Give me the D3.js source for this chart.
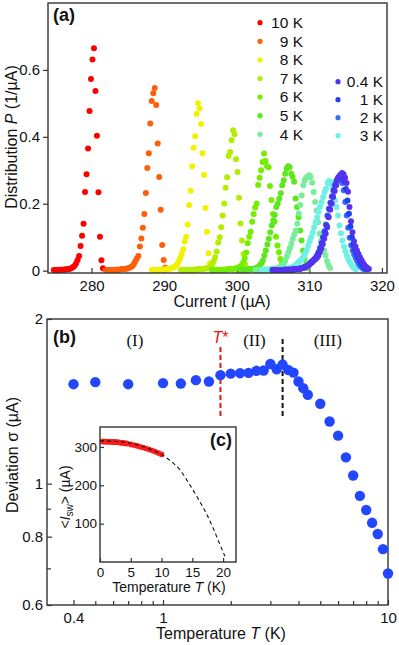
<!DOCTYPE html>
<html>
<head>
<meta charset="utf-8">
<script src="https://cdnjs.cloudflare.com/ajax/libs/d3/7.8.5/d3.min.js"></script>
<style>
  body { margin: 0; background: #fff; }
  svg text { font-family: "Liberation Sans", Arial, Helvetica, sans-serif; fill: #111; }
  .frame { fill: none; stroke: #333; stroke-width: 1.4; }
  .axis .domain { display: none; }
  .axis line { stroke: #333; stroke-width: 1.2; }
  .axis text { font-size: 15px; fill: #111; }
</style>
</head>
<body>
<svg id="fig" width="399" height="645"></svg>
<script>
// ---- panel (a): switching current distributions, bins of 0.205 uA ----
var binStep = 0.205;
var seriesNames  = ["10 K", "9 K", "8 K", "7 K", "6 K", "5 K", "4 K", "3 K", "2 K", "1 K", "0.4 K"];
var seriesColors = ["#ff0000", "#ff5f0a", "#f2f200", "#b2ee00", "#77ee00", "#5ce81c", "#77ee99", "#6ff0e6", "#3a6cff", "#2240ee", "#5533ee"];
var seriesStart  = [274.8, 281.94, 288.32, 292.32, 296.59, 300.525, 302.6, 303.495, 304.9, 305.0, 305.08];

var p10K = [0.002,0.002,0.002,0.002,0.003,0.003,0.003,0.003,0.004,0.004,0.005,0.006,0.008,0.011,0.015,
  0.022,0.032,0.044,0.074,0.104,0.140,0.235,0.288,0.365,0.477,0.573,0.631,0.665,0.537,0.403,0.234,0.101,0.031,0.007];
var p9K = [0.002,0.002,0.002,0.002,0.002,0.002,0.003,0.003,0.003,0.003,0.004,0.004,0.005,0.005,0.006,0.007,0.009,0.011,0.014,
  0.020,0.028,0.036,0.044,0.072,0.096,0.128,0.169,0.232,0.307,0.351,0.440,0.507,0.530,0.546,0.495,0.380,0.280,0.182,0.077,0.032,0.009];
var p8K = [0.002,0.002,0.002,0.002,0.002,0.003,0.003,0.003,0.003,0.004,0.004,0.005,0.006,0.007,0.009,0.011,0.014,
  0.019,0.028,0.037,0.050,0.064,0.087,0.101,0.138,0.196,0.239,0.312,0.367,0.402,0.468,0.500,0.485,0.438,0.351,0.286,0.187,0.116,0.052,0.022,0.008];
var p7K = [0.002,0.002,0.002,0.002,0.002,0.002,0.003,0.003,0.003,0.003,0.003,0.004,0.004,0.004,0.005,0.005,0.006,0.007,0.008,0.010,
  0.013,0.019,0.028,0.040,0.057,0.084,0.100,0.130,0.165,0.201,0.248,0.279,0.343,0.355,0.390,0.420,0.408,0.333,0.295,0.218,0.141,0.090,0.050,0.020,0.008];
var p6K = [0.002,0.002,0.002,0.002,0.002,0.003,0.003,0.003,0.003,0.003,0.004,0.004,0.004,0.005,0.005,0.006,0.007,0.008,0.010,
  0.012,0.017,0.025,0.037,0.054,0.082,0.101,0.116,0.146,0.169,0.189,0.201,0.256,0.278,0.300,0.325,0.350,0.328,0.312,0.309,0.253,0.211,0.169,0.146,0.101,0.075,0.055,0.035,0.020,0.010];
var p5K = [0.002,0.002,0.002,0.003,0.003,0.003,0.004,0.004,0.005,0.006,0.007,0.009,0.012,0.016,0.022,
  0.030,0.045,0.060,0.078,0.095,0.115,0.135,0.150,0.166,0.190,0.200,0.215,0.231,0.255,0.270,0.290,0.305,0.312,0.309,0.290,0.280,0.266,0.216,0.190,0.160,0.120,0.090,0.060,0.035,0.018,0.008];
var p4K = [0.002,0.002,0.002,0.002,0.002,0.003,0.003,0.003,0.003,0.004,0.004,0.005,0.005,0.006,0.007,0.008,0.010,0.013,0.017,0.022,
  0.030,0.042,0.055,0.067,0.080,0.095,0.108,0.120,0.140,0.171,0.196,0.225,0.255,0.270,0.278,0.281,0.285,0.280,0.263,0.235,0.205,0.180,0.145,0.110,0.090,0.077,0.060,0.045,0.028,0.016,0.008];
var p3K = [0.002,0.002,0.002,0.002,0.002,0.002,0.003,0.003,0.003,0.003,0.003,0.004,0.004,0.004,0.005,0.005,0.006,0.006,0.007,0.008,0.010,
  0.012,0.015,0.019,0.023,0.027,0.031,0.036,0.043,0.052,0.062,0.075,0.088,0.100,0.115,0.130,0.145,0.160,0.176,0.191,0.205,0.220,0.235,0.245,0.262,0.268,0.265,0.255,0.235,0.210,0.190,0.165,0.135,0.112,0.090,0.072,0.058,0.045,0.034,0.025,0.017,0.012,0.007,0.004];
var p2K = [0.002,0.002,0.002,0.002,0.002,0.002,0.002,0.002,0.003,0.003,0.003,0.003,0.003,0.003,0.004,0.004,0.005,0.005,0.006,0.007,0.008,0.010,0.012,0.014,
  0.017,0.021,0.025,0.029,0.033,0.038,0.045,0.055,0.068,0.083,0.100,0.118,0.138,0.165,0.185,0.203,0.222,0.240,0.256,0.268,0.276,0.280,0.276,0.262,0.240,0.205,0.165,0.128,0.098,0.076,0.060,0.048,0.038,0.029,0.021,0.015,0.010,0.006,0.004];
var p1K = [0.002,0.002,0.002,0.002,0.002,0.002,0.002,0.002,0.003,0.003,0.003,0.003,0.003,0.003,0.004,0.004,0.005,0.005,0.006,0.007,0.008,0.010,0.012,0.014,
  0.018,0.022,0.026,0.030,0.034,0.039,0.046,0.056,0.068,0.082,0.098,0.114,0.134,0.162,0.184,0.202,0.222,0.240,0.256,0.270,0.279,0.285,0.287,0.280,0.266,0.244,0.210,0.170,0.132,0.100,0.078,0.062,0.050,0.040,0.031,0.023,0.016,0.011,0.007,0.004];
var p04K = [0.002,0.002,0.002,0.002,0.002,0.002,0.002,0.002,0.003,0.003,0.003,0.003,0.003,0.003,0.004,0.004,0.005,0.005,0.006,0.007,0.008,0.010,0.012,0.015,
  0.018,0.022,0.026,0.030,0.034,0.038,0.044,0.054,0.066,0.080,0.095,0.110,0.130,0.160,0.182,0.200,0.220,0.238,0.255,0.270,0.280,0.287,0.292,0.288,0.278,0.262,0.236,0.190,0.148,0.115,0.088,0.072,0.060,0.050,0.040,0.032,0.024,0.017,0.012,0.008,0.005];
var seriesP = [p10K, p9K, p8K, p7K, p6K, p5K, p4K, p3K, p2K, p1K, p04K];

var aXTicks = [280, 290, 300, 310, 320];
var aYTicks = [0, 0.2, 0.4, 0.6];

// ---- panel (b): deviation vs temperature ----
var bT     = [0.4,0.5,0.7,1.0,1.2,1.4,1.6,1.8,2.0,2.2,2.4,2.6,2.8,3.0,3.2,3.4,3.6,3.8,4.0,4.2,4.4,5.0,5.5,6.0,6.5,7.0,7.5,8.0,8.5,9.0,9.5,10.0];
var bSigma = [1.520,1.533,1.520,1.527,1.524,1.546,1.537,1.579,1.589,1.592,1.594,1.608,1.610,1.655,1.619,1.651,1.614,1.596,1.537,1.495,1.454,1.400,1.299,1.224,1.117,1.035,0.950,0.895,0.848,0.809,0.759,0.685];
var bXMajor = [0.4, 1, 10];
var bXMinor = [0.5,0.6,0.7,0.8,0.9,2,3,4,5,6,7,8,9];
var bYMajor = [0.6, 0.8, 1, 2];
var bYMinor = [0.7, 0.9];
var tStar = 1.8,  tStarSpan = [1.33, 1.78];
var tCross = 3.4, tCrossSpan = [1.33, 1.86];
var regionLabels = ["(I)", "(II)", "(III)"];
var regionT = [0.75, 2.55, 5.4];

// ---- inset (c): mean switching current ----
var cMean  = [314.0,314.0,313.9,313.8,313.7,313.6,313.5,313.4,313.2,313.0,312.8,312.5,312.2,311.9,311.5,311.1,310.7,310.2,309.7,309.2,308.6,306.6,304.8,302.8,300.6,298.4,295.8,293.3,290.5,287.5,284.2,280.5];
var fitT = [0, 2, 4, 6, 8, 10, 11.9, 13, 14.6, 15.7, 17.1, 18.5, 19.5, 20.3];
var fitI = [316, 315, 312, 306, 295, 280, 258, 240, 201, 172, 132, 84, 45, 15];
var cXTicks = [0, 5, 10, 15, 20];
var cYTicks = [100, 200, 300];

var svg = d3.select("#fig");

// ================= panel (a) =================
var xA = d3.scaleLinear().domain([274.0, 320.7]).range([48, 387]);
var yA = d3.scaleLinear().domain([-0.007, 0.8]).range([273, 3]);

svg.append("g").attr("class", "axis")
  .attr("transform", "translate(0," + yA.range()[0] + ")")
  .call(d3.axisBottom(xA).tickValues(aXTicks).tickSize(-5).tickPadding(7).tickFormat(d3.format("d")));
svg.append("g").attr("class", "axis")
  .attr("transform", "translate(" + xA.range()[0] + ",0)")
  .call(d3.axisLeft(yA).tickValues(aYTicks).tickSize(5).tickPadding(3)
    .tickFormat(function(d) { return d === 0 ? "0" : d.toFixed(1); }));

seriesP.forEach(function(vals, s) {
  var pts = vals.map(function(v, i) { return { I: seriesStart[s] + i * binStep, P: v }; });
  svg.append("g").selectAll("circle").data(pts).enter().append("circle")
    .attr("cx", function(d) { return xA(d.I); })
    .attr("cy", function(d) { return yA(d.P); })
    .attr("r", 3)
    .attr("fill", seriesColors[s]);
});

svg.append("rect").attr("class", "frame")
  .attr("x", 48).attr("y", 3).attr("width", 339).attr("height", 270);

// legend
var legLeft = svg.append("g");
seriesNames.forEach(function(name, s) {
  var right = s >= 7;
  var row = right ? (10 - s) : s;
  var cx = right ? 338 : 260, cy = right ? 81.7 + row * 18 : 22.7 + row * 18.6;
  legLeft.append("circle").attr("cx", cx).attr("cy", cy).attr("r", 2.6).attr("fill", seriesColors[s]);
  legLeft.append("text").attr("x", right ? 383 : 303).attr("y", cy + 5.2)
    .attr("text-anchor", "end").style("font-size", "15.5px").text(name);
});

svg.append("text").attr("x", 53).attr("y", 21).style("font-size", "18px").style("font-weight", "bold").text("(a)");

var tA = svg.append("text").attr("x", 222).attr("y", 307).attr("text-anchor", "middle").style("font-size", "16px");
tA.append("tspan").text("Current ");
tA.append("tspan").style("font-style", "italic").text("I");
tA.append("tspan").text(" (\u00b5A)");

var yTA = svg.append("text").attr("transform", "translate(17,137) rotate(-90)").attr("text-anchor", "middle").style("font-size", "16px");
yTA.append("tspan").text("Distribution ");
yTA.append("tspan").style("font-style", "italic").text("P");
yTA.append("tspan").text("  (1/\u00b5A)");

// ================= panel (b) =================
var xB = d3.scaleLog().domain([0.305, 10]).range([47, 388]);
var yB = d3.scaleLog().domain([0.6, 2]).range([605, 319]);

svg.append("g").attr("class", "axis")
  .attr("transform", "translate(0," + yB.range()[0] + ")")
  .call(d3.axisBottom(xB).tickValues(bXMajor).tickSize(-5).tickPadding(7).tickFormat(d3.format("~g")));
svg.append("g").attr("class", "axis")
  .attr("transform", "translate(0," + yB.range()[0] + ")")
  .call(d3.axisBottom(xB).tickValues(bXMinor).tickSize(-4).tickFormat(""));
svg.append("g").attr("class", "axis")
  .attr("transform", "translate(" + xB.range()[0] + ",0)")
  .call(d3.axisLeft(yB).tickValues(bYMajor).tickSize(-5).tickPadding(4).tickFormat(d3.format("~g")));
svg.append("g").attr("class", "axis")
  .attr("transform", "translate(" + xB.range()[0] + ",0)")
  .call(d3.axisLeft(yB).tickValues(bYMinor).tickSize(-4).tickFormat(""));

svg.append("rect").attr("class", "frame")
  .attr("x", 47).attr("y", 319).attr("width", 341).attr("height", 286);

// dashed markers
svg.append("line").attr("x1", xB(tStar)).attr("x2", xB(tStar))
  .attr("y1", yB(tStarSpan[0])).attr("y2", yB(tStarSpan[1]))
  .attr("stroke", "#ee1111").attr("stroke-width", 2).attr("stroke-dasharray", "5,3");
svg.append("line").attr("x1", xB(tCross)).attr("x2", xB(tCross))
  .attr("y1", yB(tCrossSpan[0])).attr("y2", yB(tCrossSpan[1]))
  .attr("stroke", "#111").attr("stroke-width", 2).attr("stroke-dasharray", "5,3");

svg.append("g").selectAll("circle").data(bT).enter().append("circle")
  .attr("cx", function(d) { return xB(d); })
  .attr("cy", function(d, i) { return yB(bSigma[i]); })
  .attr("r", 5.2)
  .attr("fill", "#2247ff");

regionLabels.forEach(function(lab, i) {
  svg.append("text").attr("x", xB(regionT[i])).attr("y", 346).attr("text-anchor", "middle")
    .style("font-family", '"Liberation Serif", "Times New Roman", serif').style("font-size", "17px").text(lab);
});
var ts = svg.append("text").attr("x", xB(tStar)).attr("y", 343).attr("text-anchor", "middle")
  .style("font-size", "16px").style("fill", "#ee1111");
ts.append("tspan").style("font-style", "italic").style("fill", "#ee1111").text("T");
ts.append("tspan").style("fill", "#ee1111").text("*");

svg.append("text").attr("x", 53).attr("y", 343).style("font-size", "18px").style("font-weight", "bold").text("(b)");

var tB = svg.append("text").attr("x", 221).attr("y", 639).attr("text-anchor", "middle").style("font-size", "16px");
tB.append("tspan").text("Temperature ");
tB.append("tspan").style("font-style", "italic").text("T");
tB.append("tspan").text(" (K)");

svg.append("text").attr("transform", "translate(18,455) rotate(-90)").attr("text-anchor", "middle")
  .style("font-size", "16px").text("Deviation \u03c3 (\u00b5A)");

// ================= inset (c) =================
var xC = d3.scaleLinear().domain([0, 22.1]).range([100, 236]);
var yC = d3.scaleLinear().domain([0, 352]).range([562, 427]);

svg.append("rect").attr("x", 100).attr("y", 427).attr("width", 136).attr("height", 135).attr("fill", "#fff");

svg.append("g").attr("class", "axis")
  .attr("transform", "translate(0," + yC.range()[0] + ")")
  .call(d3.axisBottom(xC).tickValues(cXTicks).tickSize(-4).tickPadding(5))
  .selectAll("text").style("font-size", "13.5px");
svg.append("g").attr("class", "axis")
  .attr("transform", "translate(" + xC.range()[0] + ",0)")
  .call(d3.axisLeft(yC).tickValues(cYTicks).tickSize(-4).tickPadding(3))
  .selectAll("text").style("font-size", "13.5px");

svg.append("g").selectAll("circle").data(bT).enter().append("circle")
  .attr("cx", function(d) { return xC(d); })
  .attr("cy", function(d, i) { return yC(cMean[i]); })
  .attr("r", 2.8)
  .attr("fill", "#ff1a1a");

var fitLine = d3.line().curve(d3.curveMonotoneX)
  .x(function(d, i) { return xC(d); })
  .y(function(d, i) { return yC(fitI[i]); });
svg.append("path").attr("d", fitLine(fitT)).attr("fill", "none")
  .attr("stroke", "#111").attr("stroke-width", 1.1).attr("stroke-dasharray", "4,3");

svg.append("rect").attr("class", "frame")
  .attr("x", 100).attr("y", 427).attr("width", 136).attr("height", 135);

svg.append("text").attr("x", 232).attr("y", 446).attr("text-anchor", "end")
  .style("font-size", "18px").style("font-weight", "bold").text("(c)");

var tC = svg.append("text").attr("x", 169).attr("y", 592).attr("text-anchor", "middle").style("font-size", "14px");
tC.append("tspan").text("Temperature ");
tC.append("tspan").style("font-style", "italic").text("T");
tC.append("tspan").text(" (K)");

var yTC = svg.append("text").attr("transform", "translate(70,497) rotate(-90)").attr("text-anchor", "middle").style("font-size", "14px");
yTC.append("tspan").text("<");
yTC.append("tspan").style("font-style", "italic").text("I");
yTC.append("tspan").attr("dy", 3).style("font-size", "10px").text("sw");
yTC.append("tspan").attr("dy", -3).text("> (\u00b5A)");
</script>
</body>
</html>
